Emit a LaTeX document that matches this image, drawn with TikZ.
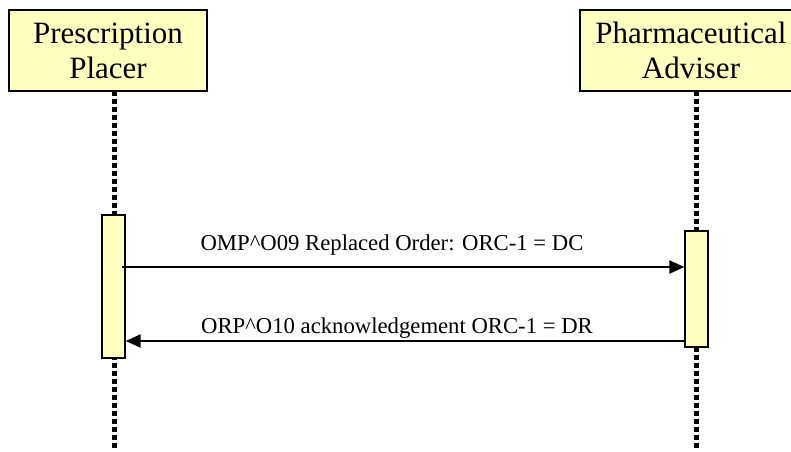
\documentclass[tikz,border=0pt]{standalone}
\usepackage{fontspec}
\setmainfont{Liberation Serif}
\usepackage{tikz}
\usetikzlibrary{arrows.meta,positioning,calc}
\usepackage{xcolor}
\definecolor{noteyellow}{HTML}{FFFFC0}

\begin{document}
\begin{tikzpicture}[
    x=1pt, y=-1pt,
    actor/.style={rectangle, draw, line width=1.6pt, fill=noteyellow, minimum height=81pt, align=center, font=\fontsize{31}{35}\selectfont, inner sep=0pt},
    lifeline/.style={line width=5pt, dash pattern=on 4.5pt off 3.5pt},
    activation/.style={rectangle, draw, line width=1.4pt, fill=noteyellow, minimum width=23pt, inner sep=0pt},
    msg/.style={line width=2.4pt, -{Triangle[length=15pt,width=13pt]}},
    msglabel/.style={font=\fontsize{22.7}{24}\selectfont, inner sep=0pt, anchor=base},
]
    \useasboundingbox (0,0) rectangle (791,451);

    % participants
    \node[actor, minimum width=198pt] (placer) at (108, 50.5) {Prescription\\Placer};
    \node[actor, minimum width=222pt] (adviser) at (691, 50.5) {Pharmaceutical\\Adviser};

    % lifelines
    \coordinate (placerend) at (114, 451);
    \coordinate (adviserend) at (696, 451);
    \draw[lifeline] (114, 91) -- (placerend);
    \draw[lifeline] (696, 91) -- (adviserend);

    % activations
    \node[activation, minimum height=143pt] (placerbar) at (113.5, 286.5) {};
    \node[activation, minimum height=116pt] (adviserbar) at (696.5, 289) {};

    % messages
    \coordinate (m1start) at (122, 267);
    \draw[msg] (m1start) -- (m1start -| adviserbar.west);
    \node[msglabel] (m1label) at (392, 250) {OMP\^{}O09 Replaced Order: ORC-1 = DC};

    \coordinate (m2start) at ($(adviserbar.west)+(0,52)$);
    \draw[msg] (m2start) -- (m2start -| placerbar.east);
    \node[msglabel] (m2label) at (397, 333) {ORP\^{}O10 acknowledgement ORC-1 = DR};
\end{tikzpicture}
\end{document}
